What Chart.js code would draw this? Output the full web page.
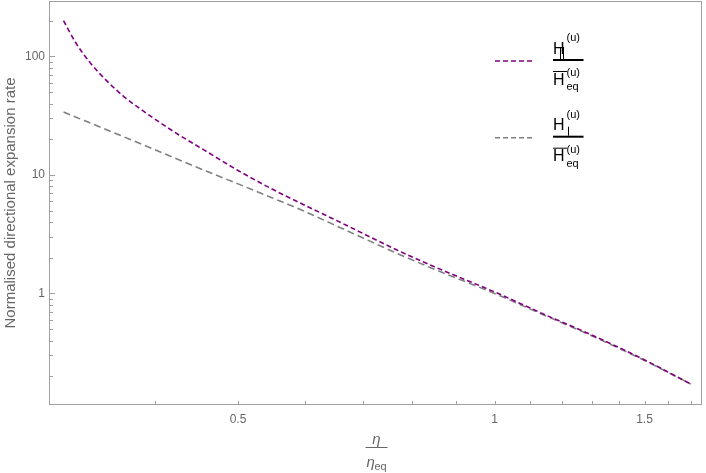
<!DOCTYPE html>
<html>
<head>
<meta charset="utf-8">
<script src="https://cdn.jsdelivr.net/npm/chart.js@4.4.0/dist/chart.umd.min.js"></script>
<style>
  html, body { margin: 0; padding: 0; background: #fff; }
  #wrap { width: 706px; height: 473px; position: relative; }
</style>
</head>
<body>
<div id="wrap"><canvas id="expansionChart"></canvas></div>
<script>
// values (eta / eta_eq on x, H / H_eq on y)
const etaPar = [0.312, 0.323, 0.335, 0.35, 0.367, 0.383, 0.401, 0.421, 0.457, 0.5, 0.547, 0.59, 0.669, 0.766, 0.85, 1.0, 1.15, 1.3, 1.5, 1.7];
const hPar   = [200, 128, 89, 63, 46, 36.5, 29, 23, 16.1, 10.9, 7.66, 5.85, 3.78, 2.35, 1.68, 1.03, 0.655, 0.447, 0.275, 0.172];
const etaPerp = [0.312, 0.373, 0.418, 0.457, 0.5, 0.547, 0.59, 0.669, 0.766, 0.85, 1.0, 1.15, 1.3, 1.5, 1.7];
const hPerp   = [33.9, 20.0, 14.2, 10.9, 8.4, 6.45, 5.15, 3.42, 2.2, 1.6, 1.0, 0.645, 0.44, 0.272, 0.172];

const xTicks = [0.4, 0.5, 0.6, 0.7, 0.8, 0.9, 1, 1.1, 1.2, 1.3, 1.4, 1.5, 1.6, 1.7];
const xLabels = [0.5, 1, 1.5];
const yTicks = [0.2, 0.3, 0.4, 0.5, 0.6, 0.7, 0.8, 0.9, 1, 2, 3, 4, 5, 6, 7, 8, 9,
                10, 20, 30, 40, 50, 60, 70, 80, 90, 100, 200];
const yLabels = [1, 10, 100];

const purple = 'rgb(128, 0, 128)';
const grey = 'rgb(128, 128, 128)';
const labelGrey = '#666';
const frameGrey = '#a0a0a0';

function toPoints(xs, ys) {
    return xs.map((x, i) => ({ x: x, y: ys[i] }));
}

// frame, inward ticks, axis titles and the fraction legend
const framePlugin = {
    id: 'framePlugin',
    afterDraw(chart) {
        const ctx = chart.ctx;
        const a = chart.chartArea;
        const xs = chart.scales.x;
        const ys = chart.scales.y;
        ctx.save();

        ctx.strokeStyle = frameGrey;
        ctx.lineWidth = 1;
        ctx.strokeRect(a.left + 0.5, a.top + 0.5, a.right - a.left - 1, a.bottom - a.top - 1);

        ctx.beginPath();
        xTicks.forEach(v => {
            const px = Math.round(xs.getPixelForValue(v)) + 0.5;
            ctx.moveTo(px, a.bottom);
            ctx.lineTo(px, a.bottom - 4);
        });
        yTicks.forEach(v => {
            const py = Math.round(ys.getPixelForValue(v)) + 0.5;
            const len = yLabels.includes(v) ? 6 : 4;
            ctx.moveTo(a.left, py);
            ctx.lineTo(a.left + len, py);
        });
        ctx.stroke();

        // y title
        ctx.fillStyle = labelGrey;
        ctx.font = '15px "Liberation Sans", Arial, sans-serif';
        ctx.textAlign = 'center';
        ctx.textBaseline = 'middle';
        ctx.translate(11, 203);
        ctx.rotate(-Math.PI / 2);
        ctx.fillText('Normalised directional expansion rate', 0, 0);
        ctx.setTransform(1, 0, 0, 1, 0, 0);

        // x title: eta / eta_eq
        const cx = 376.5;
        ctx.textBaseline = 'alphabetic';
        ctx.font = 'italic 15px "Liberation Sans", Arial, sans-serif';
        ctx.fillText('η', cx, 444);
        ctx.strokeStyle = labelGrey;
        ctx.beginPath();
        ctx.moveTo(cx - 11, 447.5);
        ctx.lineTo(cx + 11, 447.5);
        ctx.stroke();
        ctx.textAlign = 'left';
        ctx.fillText('η', cx - 10, 467);
        ctx.font = '11px "Liberation Sans", Arial, sans-serif';
        ctx.fillText('eq', cx - 2, 470);

        // legend
        drawEntry(ctx, 0, purple, 'par');
        drawEntry(ctx, 76.7, grey, 'perp');
        ctx.restore();
    }
};

function drawEntry(ctx, dy, colour, kind) {
    ctx.save();
    ctx.strokeStyle = colour;
    ctx.lineWidth = 1.6;
    ctx.setLineDash([5, 3]);
    ctx.beginPath();
    ctx.moveTo(495, 61 + dy);
    ctx.lineTo(535, 61 + dy);
    ctx.stroke();
    ctx.setLineDash([]);

    ctx.fillStyle = '#000';
    ctx.textAlign = 'left';
    ctx.textBaseline = 'alphabetic';
    ctx.font = '16px "Liberation Sans", Arial, sans-serif';
    ctx.fillText('H', 553, 53.5 + dy);
    ctx.fillText('H', 553, 84.5 + dy);
    ctx.font = '11px "Liberation Sans", Arial, sans-serif';
    ctx.fillText('(u)', 566.5, 41 + dy);
    ctx.fillText('(u)', 566.5, 76 + dy);
    ctx.fillText('eq', 566.5, 90 + dy);

    ctx.strokeStyle = '#000';
    ctx.lineWidth = 1;
    ctx.beginPath();
    if (kind === 'par') {
        ctx.moveTo(560.5, 47 + dy);
        ctx.lineTo(560.5, 59 + dy);
        ctx.moveTo(563.5, 47 + dy);
        ctx.lineTo(563.5, 59 + dy);
    } else {
        ctx.moveTo(568.5, 50 + dy);
        ctx.lineTo(568.5, 59 + dy);
    }
    ctx.moveTo(553, 71.5 + dy);
    ctx.lineTo(567, 71.5 + dy);
    ctx.stroke();

    ctx.lineWidth = 2;
    ctx.beginPath();
    ctx.moveTo(553, 60 + dy);
    ctx.lineTo(583.5, 60 + dy);
    ctx.stroke();
    ctx.restore();
}

const ctx = document.getElementById('expansionChart').getContext('2d');
const expansionChart = new Chart(ctx, {
    type: 'line',
    data: {
        datasets: [
            {
                label: 'H_par / H_eq',
                data: toPoints(etaPar, hPar),
                borderColor: purple,
                borderWidth: 1.6,
                borderDash: [5, 3],
                pointRadius: 0,
                cubicInterpolationMode: 'monotone',
                fill: false
            },
            {
                label: 'H_perp / H_eq',
                data: toPoints(etaPerp, hPerp),
                borderColor: grey,
                borderWidth: 1.6,
                borderDash: [7, 4],
                pointRadius: 0,
                cubicInterpolationMode: 'monotone',
                fill: false
            }
        ]
    },
    options: {
        responsive: true,
        maintainAspectRatio: false,
        animation: false,
        layout: { padding: { left: 0, right: 4, top: 1, bottom: 0 } },
        scales: {
            x: {
                type: 'logarithmic',
                min: 0.301,
                max: 1.752,
                grid: { display: false, drawTicks: false },
                border: { display: false },
                afterBuildTicks: scale => { scale.ticks = xTicks.map(v => ({ value: v })); },
                afterFit: scale => {
                    scale.height = 68;
                    scale.paddingLeft = 0;
                    scale.paddingRight = 0;
                },
                ticks: {
                    autoSkip: false,
                    maxRotation: 0,
                    padding: 7,
                    color: labelGrey,
                    font: { family: '"Liberation Sans", Arial, sans-serif', size: 12 },
                    callback: v => xLabels.includes(v) ? String(v) : ''
                }
            },
            y: {
                type: 'logarithmic',
                min: 0.1146,
                max: 293,
                grid: { display: false, drawTicks: false },
                border: { display: false },
                afterBuildTicks: scale => { scale.ticks = yTicks.map(v => ({ value: v })); },
                afterFit: scale => {
                    scale.width = 49;
                    scale.paddingTop = 0;
                    scale.paddingBottom = 0;
                },
                ticks: {
                    autoSkip: false,
                    padding: 4,
                    color: labelGrey,
                    font: { family: '"Liberation Sans", Arial, sans-serif', size: 12 },
                    callback: v => yLabels.includes(v) ? String(v) : ''
                }
            }
        },
        plugins: {
            legend: { display: false },
            tooltip: { enabled: false }
        }
    },
    plugins: [framePlugin]
});
</script>
</body>
</html>
